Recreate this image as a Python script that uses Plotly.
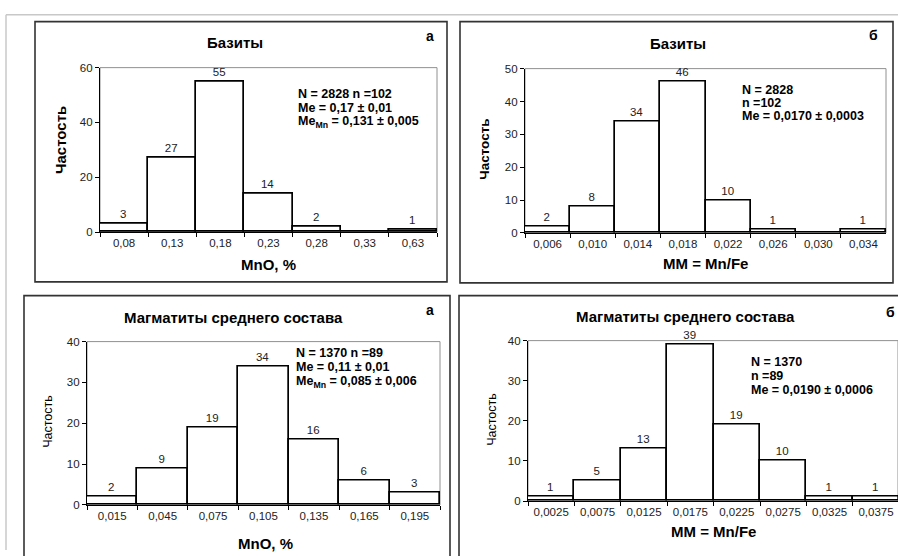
import plotly.graph_objects as go

# ---------------- data ----------------
cats_a1 = ["0,08", "0,13", "0,18", "0,23", "0,28", "0,33", "0,63"]
vals_a1 = [3, 27, 55, 14, 2, 0, 1]

cats_b1 = ["0,006", "0,010", "0,014", "0,018", "0,022", "0,026", "0,030", "0,034"]
vals_b1 = [2, 8, 34, 46, 10, 1, 0, 1]

cats_a2 = ["0,015", "0,045", "0,075", "0,105", "0,135", "0,165", "0,195"]
vals_a2 = [2, 9, 19, 34, 16, 6, 3]

cats_b2 = ["0,0025", "0,0075", "0,0125", "0,0175", "0,0225", "0,0275", "0,0325", "0,0375"]
vals_b2 = [1, 5, 13, 39, 19, 10, 1, 1]

titles = ["Базиты", "Базиты", "Магматиты среднего состава", "Магматиты среднего состава"]
letters = ["а", "б", "а", "б"]
xtitles = ["MnO, %", "MM = Mn/Fe", "MnO, %", "MM = Mn/Fe"]
ytitle = "Частость"
stats = [
    ["N = 2828 n =102", "Me = 0,17 ± 0,01", "Me<sub>Mn</sub> = 0,131 ± 0,005"],
    ["N = 2828", "n =102", "Me = 0,0170 ± 0,0003"],
    ["N = 1370 n =89", "Me = 0,11 ± 0,01", "Me<sub>Mn</sub> = 0,085 ± 0,006"],
    ["N = 1370", "n =89", "Me = 0,0190 ± 0,0006"],
]

W, H = 898, 556
FONT = "Liberation Sans, Arial, sans-serif"


def X(px):
    return px / W


def Y(py):
    return 1 - py / H


fig = go.Figure()

panels = [
    dict(cats=cats_a1, vals=vals_a1, pa=(100, 437, 63, 231), ymax=60, dtick=20, cw=None,
         box=(35, 447, 16, 282), title=(235, 37), letter=(430, 31), xt=(268, 264), yt=(60, 137),
         ytsize=15, ytbold=True, st=(297, [90, 104, 118.5])),
    dict(cats=cats_b1, vals=vals_b1, pa=(525, 886, 64, 232), ymax=50, dtick=10, cw=None,
         box=(460, 893, 16, 283), title=(678, 38), letter=(873, 30), xt=(705, 263), yt=(485, 146),
         ytsize=13.5, ytbold=True, st=(741, [85.5, 99, 112.5])),
    dict(cats=cats_a2, vals=vals_a2, pa=(87, 440, 343, 510), ymax=40, dtick=10, cw=None,
         box=(24, 450, 296, 600), title=(233, 318), letter=(430, 311), xt=(265, 549), yt=(48, 425),
         ytsize=12.5, ytbold=False, st=(295, [355, 369, 384])),
    dict(cats=cats_b2, vals=vals_b2, pa=(528, 898, 342, 506), ymax=40, dtick=10, cw=46.4,
         box=(459, 1000, 296, 600), title=(685, 317), letter=(890, 313), xt=(713, 537), yt=(492, 423),
         ytsize=12.5, ytbold=False, st=(750, [363.5, 378, 392.5])),
]

shapes = []
annotations = []

# outer light frame
shapes.append(dict(type="line", xref="paper", yref="paper", x0=X(6), x1=1, y0=Y(9), y1=Y(9),
                   line=dict(color="#c8c8c8", width=1.5)))
shapes.append(dict(type="line", xref="paper", yref="paper", x0=X(6), x1=X(6), y0=Y(9), y1=0,
                   line=dict(color="#c8c8c8", width=1.5)))

for i, p in enumerate(panels):
    n = i + 1
    xa = "x" if n == 1 else f"x{n}"
    ya = "y" if n == 1 else f"y{n}"
    x0, x1, yt_, yb_ = p["pa"]
    ncat = len(p["cats"])
    if p["cw"]:
        xr = [-0.5, -0.5 + (x1 - x0) / p["cw"]]
    else:
        xr = [-0.5, ncat - 0.5]
    texts = [str(v) if v else "" for v in p["vals"]]
    fig.add_trace(go.Bar(
        x=p["cats"], y=p["vals"], xaxis=xa, yaxis=ya, width=1,
        marker=dict(color="white", line=dict(color="black", width=1.7)),
        text=texts, textposition="outside", cliponaxis=False,
        textfont=dict(family=FONT, size=11.5, color="#222"),
        showlegend=False, hoverinfo="x+y",
    ))
    fig.layout[f"xaxis{'' if n == 1 else n}"] = dict(
        domain=[X(x0), min(1, X(x1))], anchor=ya, type="category", range=xr,
        showline=True, linecolor="black", linewidth=1.2, ticks="outside", tickson="boundaries",
        ticklen=4, tickcolor="black", showgrid=False, zeroline=False,
        tickfont=dict(family=FONT, size=11.5, color="#222"), fixedrange=True,
    )
    fig.layout[f"yaxis{'' if n == 1 else n}"] = dict(
        domain=[Y(yb_), Y(yt_)], anchor=xa, range=[0, p["ymax"]], dtick=p["dtick"],
        showline=True, linecolor="black", linewidth=1.2, ticks="outside", ticklen=4,
        tickcolor="black", showgrid=False, zeroline=False,
        tickfont=dict(family=FONT, size=11.5, color="#222"), fixedrange=True,
    )
    shapes.append(dict(type="rect", xref=f"{xa} domain", yref=f"{ya} domain", x0=0, x1=1, y0=0, y1=1,
                       line=dict(color="#909090", width=1), layer="below"))
    bx0, bx1, by0, by1 = p["box"]
    shapes.append(dict(type="rect", xref="paper", yref="paper", x0=X(bx0), x1=X(bx1), y0=Y(by1), y1=Y(by0),
                       line=dict(color="#333", width=1.6)))
    annotations.append(dict(xref="paper", yref="paper", x=X(p["title"][0]), y=Y(p["title"][1]),
                            text=f"<b>{titles[i]}</b>", showarrow=False, xanchor="center", yanchor="middle",
                            font=dict(family=FONT, size=15, color="black")))
    annotations.append(dict(xref="paper", yref="paper", x=X(p["letter"][0]), y=Y(p["letter"][1]),
                            text=f"<b>{letters[i]}</b>", showarrow=False, xanchor="center", yanchor="middle",
                            font=dict(family=FONT, size=14, color="black")))
    annotations.append(dict(xref="paper", yref="paper", x=X(p["xt"][0]), y=Y(p["xt"][1]),
                            text=f"<b>{xtitles[i]}</b>", showarrow=False, xanchor="center", yanchor="middle",
                            font=dict(family=FONT, size=15, color="black")))
    annotations.append(dict(xref="paper", yref="paper", x=X(p["yt"][0]), y=Y(p["yt"][1]),
                            text=f"<b>{ytitle}</b>" if p["ytbold"] else ytitle, textangle=-90,
                            showarrow=False, xanchor="center", yanchor="middle",
                            font=dict(family=FONT, size=p["ytsize"], color="black")))
    sx, sys_ = p["st"]
    for line, sy in zip(stats[i], sys_):
        annotations.append(dict(xref="paper", yref="paper", x=X(sx), y=Y(sy), text=f"<b>{line}</b>",
                                showarrow=False, xanchor="left", yanchor="middle", borderpad=0,
                                font=dict(family=FONT, size=12.5, color="black")))

fig.update_layout(
    width=W, height=H, margin=dict(l=0, r=0, t=0, b=0),
    paper_bgcolor="white", plot_bgcolor="white",
    bargap=0, shapes=shapes, annotations=annotations,
    font=dict(family=FONT, color="black"),
)

fig.write_html("out.html", config={"displayModeBar": False},
               post_script="document.body.style.margin='0px';document.body.style.overflow='hidden';")
